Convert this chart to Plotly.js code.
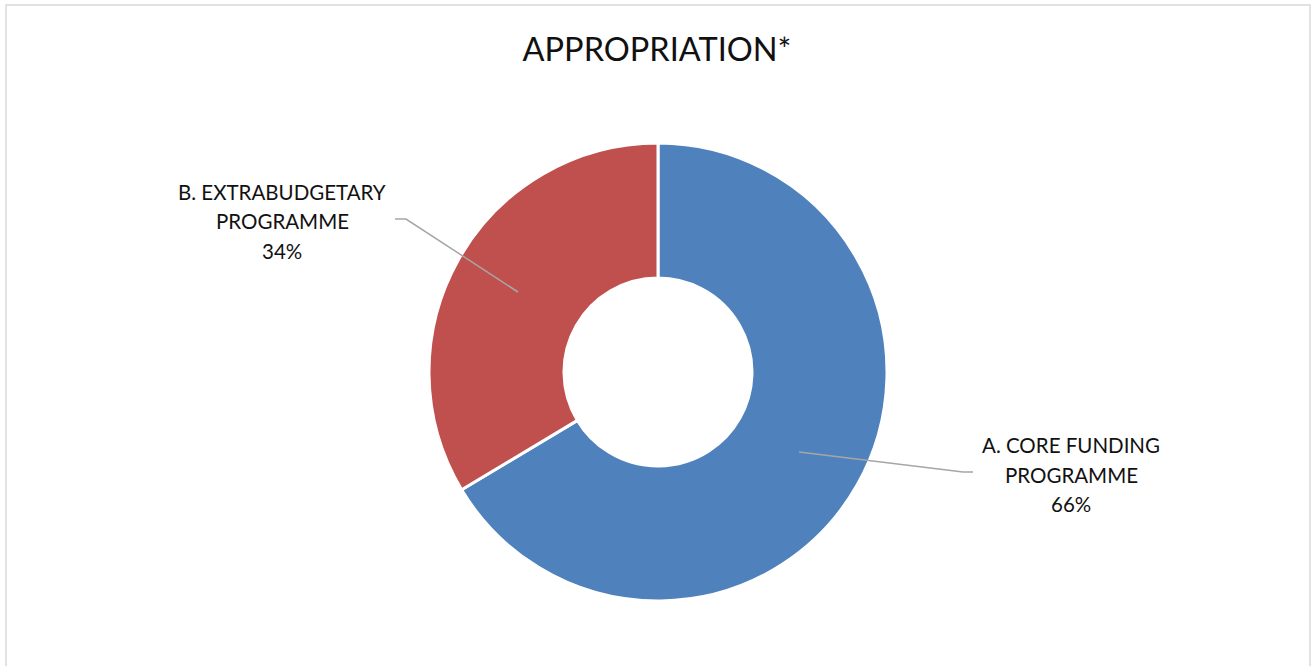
<!DOCTYPE html>
<html>
<head>
<meta charset="utf-8">
<script src="https://cdn.plot.ly/plotly-3.0.1.min.js"></script>
<style>html,body{margin:0;padding:0;background:#fff;}#chart{width:1314px;height:666px;}</style>
</head>
<body>
<div id="chart"></div>
<script>
const categories = ['A. CORE FUNDING PROGRAMME', 'B. EXTRABUDGETARY PROGRAMME'];
const labelLines = [['A. CORE FUNDING', 'PROGRAMME'], ['B. EXTRABUDGETARY', 'PROGRAMME']];
const values = [66.4, 33.6];
const colors = ['#4f81bd', '#c0504d'];
const chartTitle = 'APPROPRIATION*';

const W = 1314, H = 666;
const px = x => x / W;
const py = y => 1 - y / H;

const total = values.reduce((a, b) => a + b, 0);
const pctText = values.map(v => Math.round(v / total * 100) + '%');

// label anchor positions (pixel centres) and leader line paths
const labelPos = [{x: 1071, y: 445}, {x: 282, y: 192}];
const lineGap = 29.5;
const leaders = [
  [[799, 452], [963, 472], [973, 472]],
  [[518, 292], [406, 219], [395, 219]]
];

const annotations = [];
labelPos.forEach((p, i) => {
  const lines = labelLines[i].concat([pctText[i]]);
  lines.forEach((t, j) => {
    annotations.push({
      text: t, showarrow: false, xref: 'paper', yref: 'paper',
      x: px(p.x), y: py(p.y + j * lineGap), xanchor: 'center', yanchor: 'middle',
      font: {family: 'Lato, "Open Sans", sans-serif', size: 20.5, color: '#111111'}
    });
  });
});

const shapes = [{
  type: 'rect', xref: 'paper', yref: 'paper',
  x0: px(6), x1: px(1310), y0: py(700), y1: py(5),
  line: {color: '#d9d9d9', width: 1.5}, fillcolor: 'rgba(0,0,0,0)', layer: 'below'
}];
leaders.forEach(pts => {
  const d = pts.map((p, k) => (k ? 'L' : 'M') + px(p[0]) + ',' + py(p[1])).join(' ');
  shapes.push({type: 'path', xref: 'paper', yref: 'paper', path: d,
    line: {color: '#a6a6a6', width: 1.5}});
});

const cx = 658, cy = 372, R = 229;
const trace = {
  type: 'pie',
  labels: categories,
  values: values,
  sort: false,
  direction: 'clockwise',
  rotation: 0,
  hole: 94 / 229,
  textinfo: 'none',
  hoverinfo: 'none',
  marker: {colors: colors, line: {color: '#ffffff', width: 3}},
  domain: {x: [px(cx - R), px(cx + R)], y: [py(cy + R), py(cy - R)]},
  showlegend: false
};

const layout = {
  width: W, height: H,
  margin: {l: 0, r: 0, t: 0, b: 0},
  paper_bgcolor: '#ffffff',
  title: {
    text: chartTitle, x: 0.5, xref: 'paper', xanchor: 'center',
    y: py(50), yref: 'container', yanchor: 'middle',
    font: {family: 'Lato, "Open Sans", sans-serif', size: 32.5, color: '#111111'}
  },
  annotations: annotations,
  shapes: shapes,
  showlegend: false
};

Plotly.newPlot('chart', [trace], layout, {displayModeBar: false, staticPlot: true});
</script>
</body>
</html>
